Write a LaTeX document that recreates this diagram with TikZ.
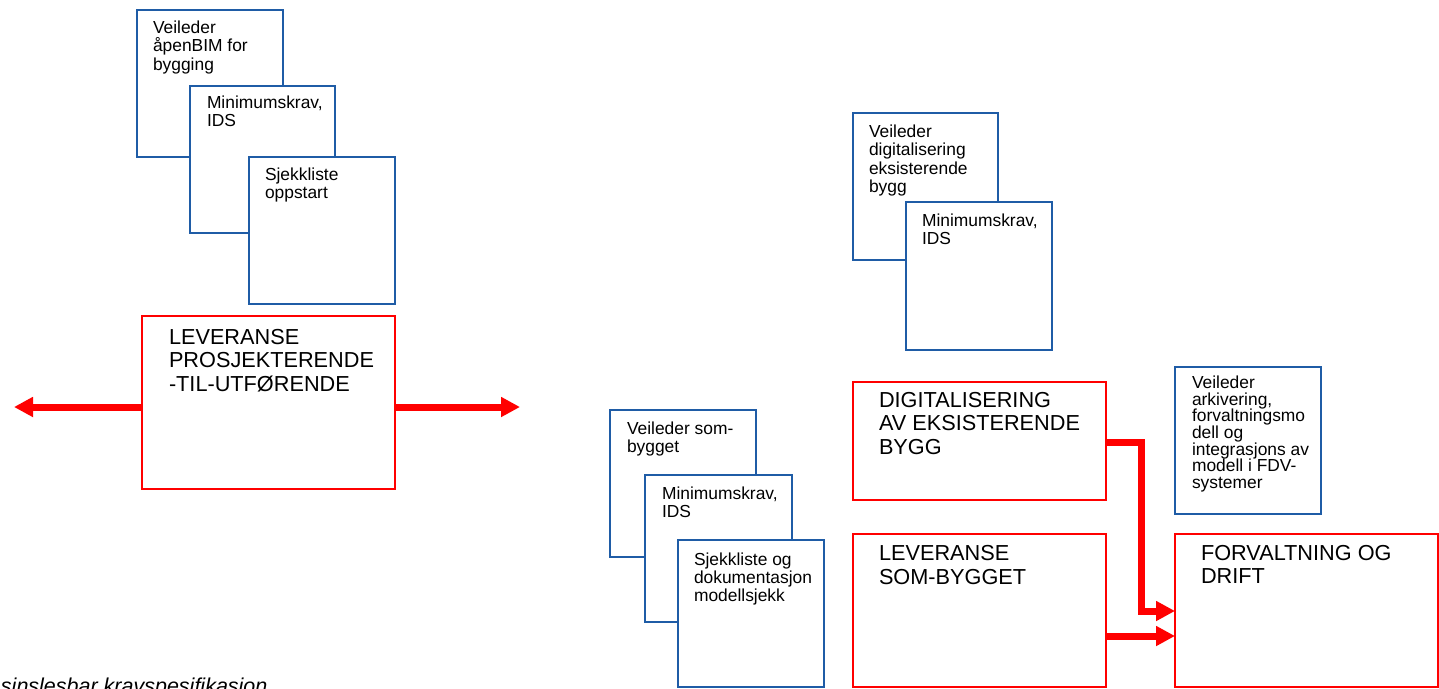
\documentclass[tikz,border=0pt]{standalone}
\usepackage{fontspec}
\setmainfont{Liberation Sans}
\usetikzlibrary{arrows.meta,calc}
\definecolor{bblue}{RGB}{31,92,166}
\definecolor{rred}{RGB}{255,0,0}
\newcommand{\bluetext}[1]{\parbox[t]{220pt}{\fontsize{17.4}{18.3}\selectfont\raggedright #1}}
\newcommand{\bluetextsm}[1]{\parbox[t]{220pt}{\fontsize{17.4}{16.7}\selectfont\raggedright #1}}
\newcommand{\redtext}[1]{\parbox[t]{300pt}{\fontsize{21.7}{23.8}\selectfont\raggedright #1}}
\tikzset{
  bluebox/.style={draw=bblue, line width=2pt, fill=white, anchor=north west,
    inner sep=0pt, outer sep=0pt, rectangle},
  redbox/.style={draw=rred, line width=1.8pt, fill=white, anchor=north west,
    inner sep=0pt, outer sep=0pt, rectangle},
  txt/.style={anchor=base west, inner sep=0pt, outer sep=0pt},
  flow/.style={draw=rred, line width=7pt, line join=miter,
    -{Triangle[length=19pt,width=19pt]}},
}
\begin{document}
\begin{tikzpicture}[x=1pt,y=-1pt]
\useasboundingbox (0,0) rectangle (1439,688);

% left stack
\node[bluebox, minimum width=146pt, minimum height=147pt] (a1) at (137,10) {};
\node[txt] (a1t) at ($(a1.north west)+(16,23.5)$) {\bluetext{Veileder\\åpenBIM for\\bygging}};
\node[bluebox, minimum width=145pt, minimum height=147pt] (a2) at (190,86) {};
\node[txt] (a2t) at ($(a2.north west)+(17,22)$) {\bluetext{Minimumskrav,\\IDS}};
\node[bluebox, minimum width=146pt, minimum height=147pt] (a3) at (249,157) {};
\node[txt] (a3t) at ($(a3.north west)+(16,23)$) {\bluetext{Sjekkliste\\oppstart}};

\node[redbox, minimum width=253pt, minimum height=173pt] (p) at (142,316) {};
\node[txt] (pt) at ($(p.north west)+(27,28)$) {\redtext{LEVERANSE\\PROSJEKTERENDE\\-TIL-UTFØRENDE}};
\coordinate (pl) at (14,407);
\coordinate (pr) at (520,407);
\draw[flow] (p.west |- pl) -- (pl);
\draw[flow] (p.east |- pr) -- (pr);

% top right stack
\node[bluebox, minimum width=145pt, minimum height=147pt] (b1) at (853,113) {};
\node[txt] (b1t) at ($(b1.north west)+(16,24.5)$) {\bluetext{Veileder\\digitalisering\\eksisterende\\bygg}};
\node[bluebox, minimum width=146pt, minimum height=148pt] (b2) at (906,202) {};
\node[txt] (b2t) at ($(b2.north west)+(16,24.5)$) {\bluetext{Minimumskrav,\\IDS}};

% middle stack
\node[bluebox, minimum width=146pt, minimum height=147pt] (c1) at (610,410) {};
\node[txt] (c1t) at ($(c1.north west)+(17,24)$) {\bluetext{Veileder som-\\bygget}};
\node[bluebox, minimum width=147pt, minimum height=147pt] (c2) at (645,475) {};
\node[txt] (c2t) at ($(c2.north west)+(17,24.5)$) {\bluetext{Minimumskrav,\\IDS}};
\node[bluebox, minimum width=146pt, minimum height=147pt] (c3) at (678,540) {};
\node[txt] (c3t) at ($(c3.north west)+(16,25)$) {\bluetext{Sjekkliste og\\dokumentasjon\\modellsjekk}};

% red boxes right
\node[redbox, minimum width=253pt, minimum height=118pt] (d) at (853,382) {};
\node[txt] (dt) at ($(d.north west)+(26,25)$) {\redtext{DIGITALISERING\\AV EKSISTERENDE\\BYGG}};
\node[redbox, minimum width=253pt, minimum height=153pt] (e) at (853,534) {};
\node[txt] (et) at ($(e.north west)+(26,26.5)$) {\redtext{LEVERANSE\\SOM-BYGGET}};
\node[redbox, minimum width=263pt, minimum height=153pt] (f) at (1175,534) {};
\node[txt] (ft) at ($(f.north west)+(26,26)$) {\redtext{FORVALTNING OG\\DRIFT}};

\node[bluebox, minimum width=146pt, minimum height=147pt] (g) at (1175,367) {};
\node[txt] (gt) at ($(g.north west)+(17,21.3)$) {\bluetextsm{Veileder\\arkivering,\\forvaltningsmo\\dell og\\integrasjons av\\modell i FDV-\\systemer}};

% connectors
\coordinate (dk1) at (1141,442);
\coordinate (dk2) at (1141,611);
\draw[flow] (d.east |- dk1) -- (dk1) -- (dk2) -- (f.west |- dk2);
\coordinate (ek) at (1141,636);
\draw[flow] (e.east |- ek) -- (f.west |- ek);

% cut-off caption
\node[txt] (cap) at (1,693) {\fontsize{21.5}{24}\selectfont\itshape sinslesbar kravspesifikasjon};
\end{tikzpicture}
\end{document}
